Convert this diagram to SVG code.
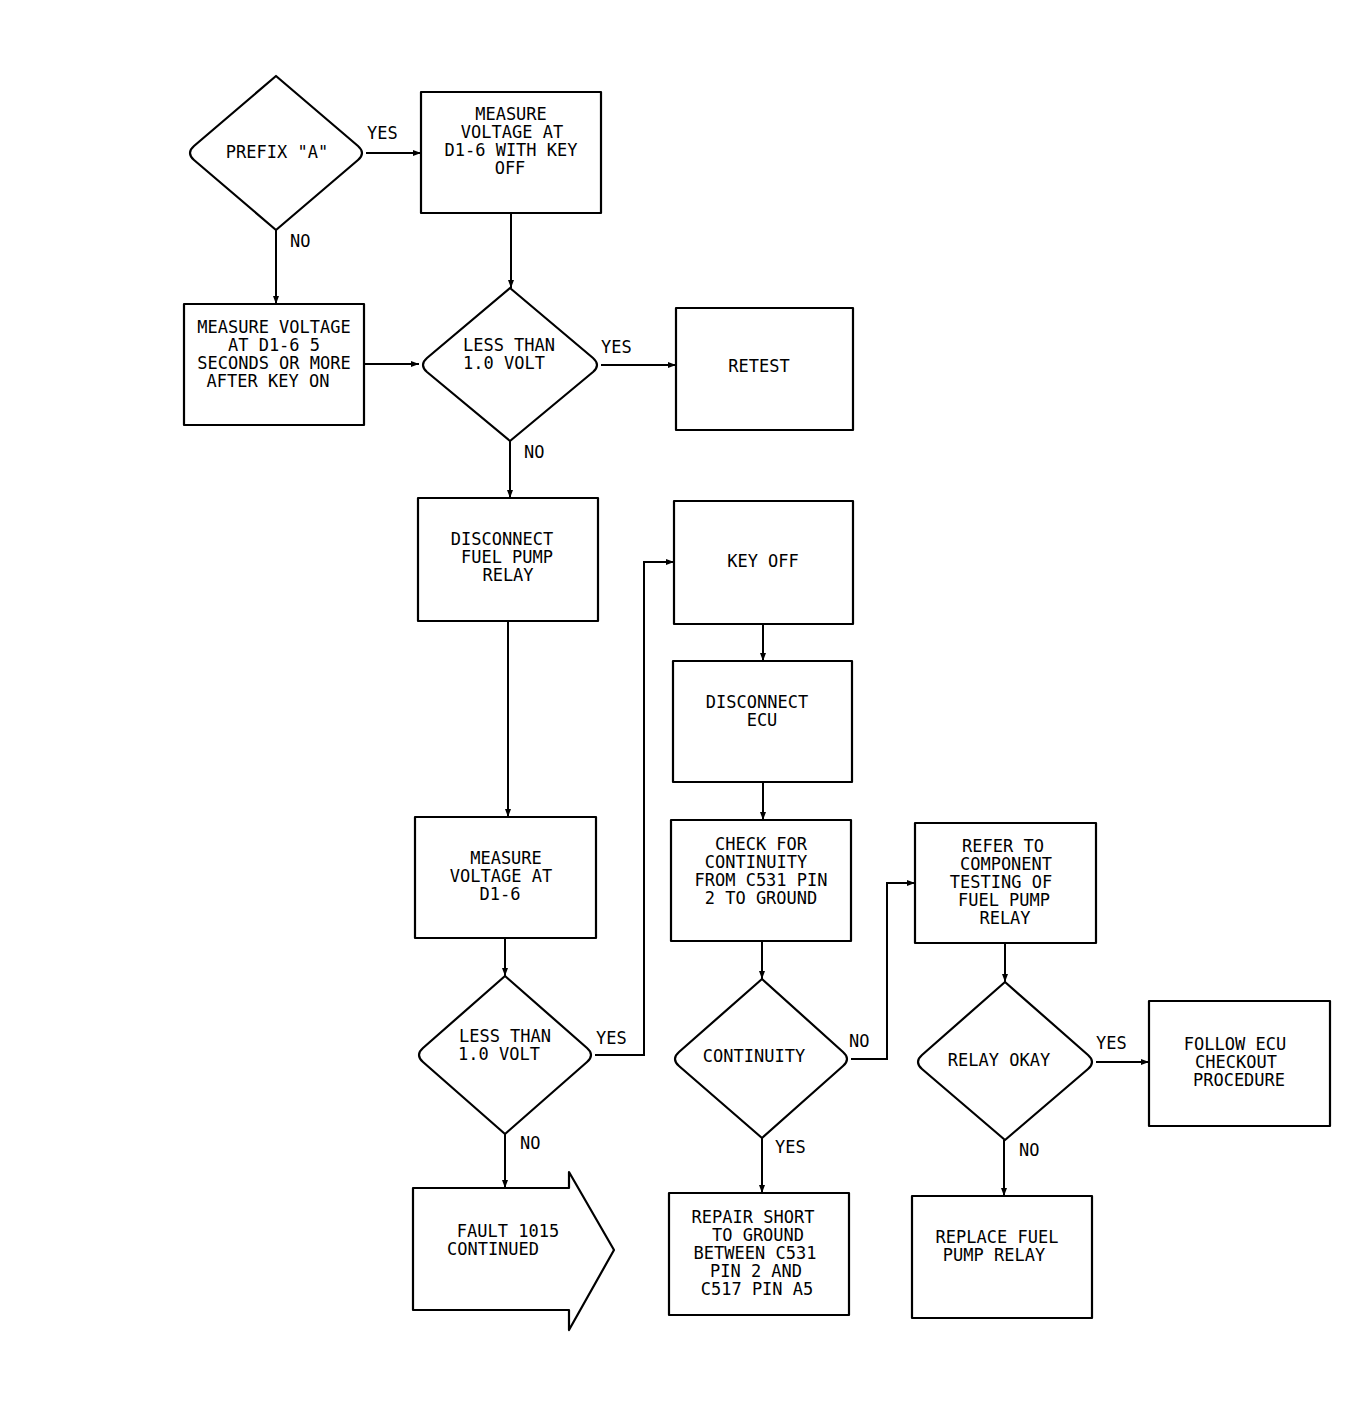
<svg xmlns="http://www.w3.org/2000/svg" width="1369" height="1407" viewBox="0 0 1369 1407">
<style>
.n{fill:#fff;stroke:#000;stroke-width:2.2;stroke-linejoin:round}
.c{fill:none;stroke:#000;stroke-width:2}
text{font-family:"DejaVu Sans Mono","Liberation Mono",monospace;font-size:17px;fill:#000;text-anchor:middle}
.l{text-anchor:start}
</style>
<defs>
<marker id="a" viewBox="0 0 8 6" refX="8" refY="3" markerWidth="8" markerHeight="6" markerUnits="userSpaceOnUse" orient="auto">
<path d="M0,0 L8,3 L0,6 Z" fill="#000"/>
</marker>
</defs>
<rect width="1369" height="1407" fill="#fff"/>
<g id="connectors">
<path class="c" d="M366,153 H421" marker-end="url(#a)"/>
<path class="c" d="M276,230 V304" marker-end="url(#a)"/>
<path class="c" d="M511,213 V288" marker-end="url(#a)"/>
<path class="c" d="M364,364 H419" marker-end="url(#a)"/>
<path class="c" d="M601,365 H676" marker-end="url(#a)"/>
<path class="c" d="M510,441 V498" marker-end="url(#a)"/>
<path class="c" d="M508,621 V817" marker-end="url(#a)"/>
<path class="c" d="M505,938 V976" marker-end="url(#a)"/>
<path class="c" d="M595,1055 H644 V562 H674" marker-end="url(#a)"/>
<path class="c" d="M505,1134 V1188" marker-end="url(#a)"/>
<path class="c" d="M763,624 V661" marker-end="url(#a)"/>
<path class="c" d="M763,782 V820" marker-end="url(#a)"/>
<path class="c" d="M762,941 V979" marker-end="url(#a)"/>
<path class="c" d="M851,1059 H887 V883 H915" marker-end="url(#a)"/>
<path class="c" d="M762,1138 V1193" marker-end="url(#a)"/>
<path class="c" d="M1005,943 V982" marker-end="url(#a)"/>
<path class="c" d="M1096,1062 H1149" marker-end="url(#a)"/>
<path class="c" d="M1004,1140 V1196" marker-end="url(#a)"/>
<text class="l" x="367" y="139">YES</text>
<text class="l" x="290" y="247">NO</text>
<text class="l" x="601" y="353">YES</text>
<text class="l" x="524" y="458">NO</text>
<text class="l" x="596" y="1044">YES</text>
<text class="l" x="520" y="1149">NO</text>
<text class="l" x="849" y="1047">NO</text>
<text class="l" x="775" y="1153">YES</text>
<text class="l" x="1096" y="1049">YES</text>
<text class="l" x="1019" y="1156">NO</text>
</g>
<g id="prefix">
<path class="n" d="M276,76 L358,146 Q366,153 358,160 L276,230 L194,160 Q186,153 194,146 Z"/>
<text x="277" y="158">PREFIX "A"</text>
</g>
<g id="measure-key-off">
<rect class="n" x="421" y="92" width="180" height="121"/>
<text x="511" y="120">MEASURE</text>
<text x="512" y="138">VOLTAGE AT</text>
<text x="511" y="156">D1-6 WITH KEY</text>
<text x="510" y="174">OFF</text>
</g>
<g id="measure-key-on">
<rect class="n" x="184" y="304" width="180" height="121"/>
<text x="274" y="333">MEASURE VOLTAGE</text>
<text x="274" y="351">AT D1-6 5</text>
<text x="274" y="369">SECONDS OR MORE</text>
<text x="268" y="387">AFTER KEY ON</text>
</g>
<g id="less-than-1">
<path class="n" d="M510,288 L593,358 Q601,365 593,372 L510,441 L427,372 Q419,365 427,358 Z"/>
<text x="509" y="351">LESS THAN</text>
<text x="504" y="369">1.0 VOLT</text>
</g>
<g id="retest">
<rect class="n" x="676" y="308" width="177" height="122"/>
<text x="759" y="372">RETEST</text>
</g>
<g id="disconnect-relay">
<rect class="n" x="418" y="498" width="180" height="123"/>
<text x="502" y="545">DISCONNECT</text>
<text x="507" y="563">FUEL PUMP</text>
<text x="508" y="581">RELAY</text>
</g>
<g id="measure-d16">
<rect class="n" x="415" y="817" width="181" height="121"/>
<text x="506" y="864">MEASURE</text>
<text x="501" y="882">VOLTAGE AT</text>
<text x="500" y="900">D1-6</text>
</g>
<g id="less-than-2">
<path class="n" d="M505,976 L587,1048 Q595,1055 587,1062 L505,1134 L423,1062 Q415,1055 423,1048 Z"/>
<text x="505" y="1042">LESS THAN</text>
<text x="499" y="1060">1.0 VOLT</text>
</g>
<g id="fault-continued">
<path class="n" d="M413,1188 H569 V1172 L614,1250 L569,1330 V1310 H413 Z"/>
<text x="508" y="1237">FAULT 1015</text>
<text x="493" y="1255">CONTINUED</text>
</g>
<g id="key-off">
<rect class="n" x="674" y="501" width="179" height="123"/>
<text x="763" y="567">KEY OFF</text>
</g>
<g id="disconnect-ecu">
<rect class="n" x="673" y="661" width="179" height="121"/>
<text x="757" y="708">DISCONNECT</text>
<text x="762" y="726">ECU</text>
</g>
<g id="check-continuity">
<rect class="n" x="671" y="820" width="180" height="121"/>
<text x="761" y="850">CHECK FOR</text>
<text x="756" y="868">CONTINUITY</text>
<text x="761" y="886">FROM C531 PIN</text>
<text x="761" y="904">2 TO GROUND</text>
</g>
<g id="continuity">
<path class="n" d="M762,979 L843,1052 Q851,1059 843,1066 L762,1138 L679,1066 Q671,1059 679,1052 Z"/>
<text x="754" y="1062">CONTINUITY</text>
</g>
<g id="repair-short">
<rect class="n" x="669" y="1193" width="180" height="122"/>
<text x="753" y="1223">REPAIR SHORT</text>
<text x="758" y="1241">TO GROUND</text>
<text x="755" y="1259">BETWEEN C531</text>
<text x="756" y="1277">PIN 2 AND</text>
<text x="757" y="1295">C517 PIN A5</text>
</g>
<g id="refer-component">
<rect class="n" x="915" y="823" width="181" height="120"/>
<text x="1003" y="852">REFER TO</text>
<text x="1006" y="870">COMPONENT</text>
<text x="1001" y="888">TESTING OF</text>
<text x="1004" y="906">FUEL PUMP</text>
<text x="1005" y="924">RELAY</text>
</g>
<g id="relay-okay">
<path class="n" d="M1005,982 L1088,1055 Q1096,1062 1088,1069 L1005,1140 L922,1069 Q914,1062 922,1055 Z"/>
<text x="999" y="1066">RELAY OKAY</text>
</g>
<g id="follow-ecu">
<rect class="n" x="1149" y="1001" width="181" height="125"/>
<text x="1235" y="1050">FOLLOW ECU</text>
<text x="1236" y="1068">CHECKOUT</text>
<text x="1239" y="1086">PROCEDURE</text>
</g>
<g id="replace-relay">
<rect class="n" x="912" y="1196" width="180" height="122"/>
<text x="997" y="1243">REPLACE FUEL</text>
<text x="994" y="1261">PUMP RELAY</text>
</g>
</svg>
